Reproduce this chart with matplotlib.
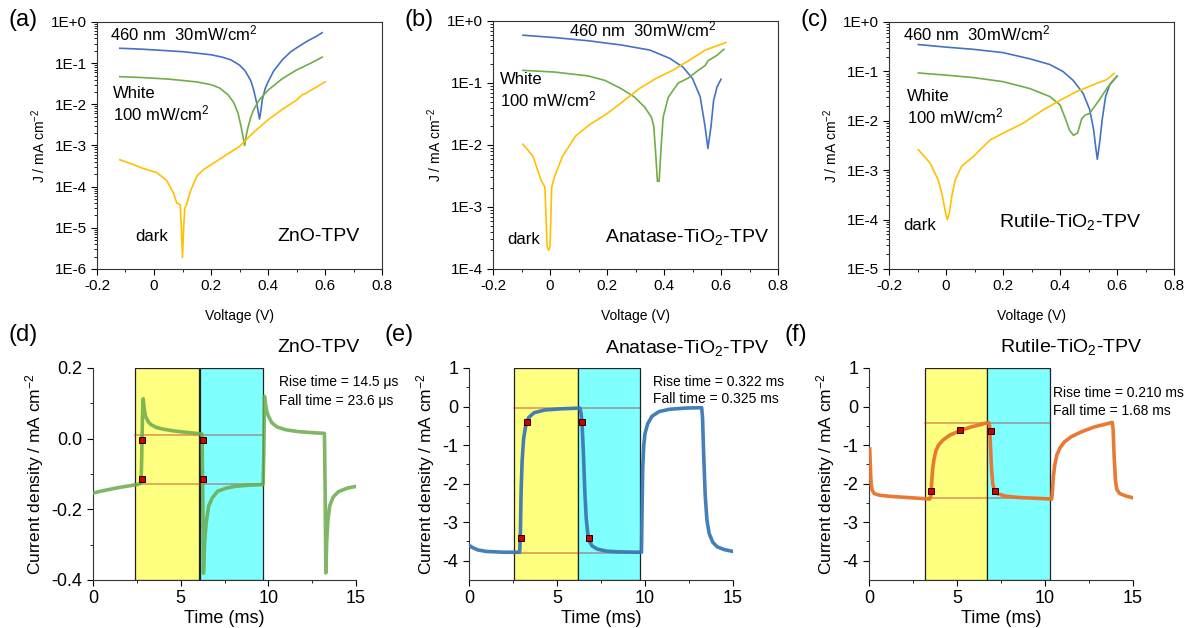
import math
import matplotlib
matplotlib.use("Agg")
import matplotlib.pyplot as plt
from matplotlib.ticker import FixedLocator, FuncFormatter, LogLocator, MultipleLocator, NullFormatter
from matplotlib.patches import Rectangle

plt.rcParams["font.family"] = ["Liberation Sans", "DejaVu Sans"]
plt.rcParams["mathtext.fontset"] = "custom"
plt.rcParams["mathtext.rm"] = "Liberation Sans"
plt.rcParams["mathtext.it"] = "Liberation Sans:italic"
plt.rcParams["axes.edgecolor"] = "#333333"

# ---------------- J-V data (|J| in mA cm-2) ----------------
# (a) ZnO
a_blue_v = [-0.12, -0.05, 0.0, 0.05, 0.1, 0.15, 0.2, 0.24, 0.27, 0.3, 0.32, 0.34, 0.35, 0.36, 0.365, 0.37, 0.375, 0.38, 0.39, 0.40, 0.42, 0.45, 0.48, 0.51, 0.54, 0.57, 0.59]
a_blue_j = [0.23, 0.22, 0.21, 0.2, 0.19, 0.175, 0.16, 0.14, 0.12, 0.09, 0.065, 0.037, 0.022, 0.011, 0.007, 0.0044, 0.007, 0.013, 0.024, 0.035, 0.065, 0.12, 0.19, 0.26, 0.35, 0.45, 0.55]
a_green_v = [-0.12, -0.05, 0.0, 0.05, 0.1, 0.15, 0.2, 0.23, 0.26, 0.28, 0.295, 0.305, 0.312, 0.318, 0.324, 0.33, 0.34, 0.35, 0.37, 0.4, 0.45, 0.5, 0.55, 0.59]
a_green_j = [0.047, 0.045, 0.043, 0.041, 0.038, 0.035, 0.03, 0.025, 0.017, 0.011, 0.006, 0.003, 0.0017, 0.001, 0.0018, 0.0028, 0.005, 0.0075, 0.013, 0.022, 0.042, 0.068, 0.1, 0.14]
a_dark_v = [-0.12, -0.08, -0.04, 0.0, 0.01, 0.045, 0.068, 0.08, 0.092, 0.096, 0.1, 0.104, 0.108, 0.113, 0.127, 0.15, 0.174, 0.2, 0.25, 0.3, 0.35, 0.4, 0.45, 0.5, 0.52, 0.53, 0.56, 0.6]
a_dark_j = [4.5e-4, 3.6e-4, 2.8e-4, 2.3e-4, 2.2e-4, 1.4e-4, 7e-5, 4e-5, 3.6e-5, 1e-5, 1.9e-6, 1e-5, 3e-5, 3.5e-5, 7.5e-5, 1.8e-4, 2.6e-4, 3.4e-4, 5.7e-4, 9.5e-4, 2.1e-3, 4.2e-3, 7.5e-3, 0.0127, 0.017, 0.018, 0.024, 0.035]

# (b) Anatase TiO2
b_blue_v = [-0.095, 0.017, 0.134, 0.25, 0.35, 0.42, 0.467, 0.5, 0.527, 0.544, 0.554, 0.565, 0.574, 0.586, 0.6]
b_blue_j = [0.59, 0.54, 0.48, 0.41, 0.34, 0.25, 0.18, 0.118, 0.06, 0.02, 0.0088, 0.02, 0.052, 0.086, 0.115]
b_green_v = [-0.095, 0.017, 0.134, 0.193, 0.25, 0.297, 0.332, 0.356, 0.364, 0.37, 0.377, 0.383, 0.389, 0.397, 0.415, 0.45, 0.485, 0.52, 0.544, 0.555, 0.586, 0.61]
b_green_j = [0.16, 0.15, 0.13, 0.11, 0.081, 0.059, 0.041, 0.028, 0.02, 0.0083, 0.0026, 0.0026, 0.008, 0.028, 0.059, 0.1, 0.12, 0.16, 0.19, 0.23, 0.28, 0.35]
b_dark_v = [-0.095, -0.06, -0.03, -0.018, -0.01, -0.005, 0.0, 0.006, 0.015, 0.044, 0.09, 0.137, 0.2, 0.255, 0.313, 0.371, 0.43, 0.487, 0.545, 0.617]
b_dark_j = [0.0103, 0.0066, 0.0026, 0.0021, 2.3e-4, 2e-4, 2.3e-4, 0.0021, 0.003, 0.0066, 0.014, 0.021, 0.032, 0.05, 0.081, 0.118, 0.16, 0.23, 0.34, 0.45]

# (c) Rutile TiO2
c_blue_v = [-0.097, 0.0, 0.096, 0.2, 0.294, 0.364, 0.41, 0.446, 0.481, 0.504, 0.518, 0.525, 0.531, 0.539, 0.548, 0.56, 0.574, 0.6]
c_blue_j = [0.35, 0.31, 0.28, 0.24, 0.18, 0.138, 0.1, 0.066, 0.036, 0.017, 0.0066, 0.003, 0.00166, 0.0036, 0.0105, 0.031, 0.053, 0.08]
c_green_v = [-0.097, 0.0, 0.096, 0.2, 0.294, 0.364, 0.4, 0.421, 0.433, 0.447, 0.461, 0.468, 0.476, 0.488, 0.503, 0.52, 0.541, 0.564, 0.582, 0.6]
c_green_j = [0.093, 0.084, 0.075, 0.062, 0.045, 0.031, 0.021, 0.0103, 0.0065, 0.0051, 0.0056, 0.0075, 0.011, 0.013, 0.014, 0.019, 0.028, 0.045, 0.062, 0.08]
c_dark_v = [-0.097, -0.056, -0.027, -0.012, -0.002, 0.005, 0.012, 0.02, 0.032, 0.055, 0.096, 0.155, 0.2, 0.27, 0.34, 0.4, 0.458, 0.528, 0.564, 0.59]
c_dark_j = [2.6e-3, 1.4e-3, 6.3e-4, 2.9e-4, 1.4e-4, 1e-4, 1.4e-4, 2.9e-4, 6.3e-4, 1.2e-3, 1.9e-3, 4.1e-3, 5.6e-3, 8.9e-3, 0.0165, 0.026, 0.039, 0.057, 0.068, 0.091]

# ---------------- transient photocurrent data ----------------
d_t = [0, 0.5, 1.0, 1.5, 2.0, 2.5, 2.74, 2.78, 2.82, 2.86, 2.92, 3.0, 3.15, 3.3, 3.6, 4.0, 4.6, 5.3, 6.1, 6.22, 6.26, 6.3, 6.36, 6.45, 6.6, 6.8, 7.1, 7.6, 8.1, 8.8, 9.7, 9.74, 9.78, 9.83, 9.9, 10.0, 10.2, 10.5, 11.0, 11.7, 12.5, 13.2, 13.24, 13.28, 13.33, 13.4, 13.5, 13.7, 14.0, 14.5, 15.0]
d_j = [-0.154, -0.148, -0.143, -0.138, -0.134, -0.13, -0.126, -0.05, 0.06, 0.113, 0.085, 0.063, 0.048, 0.04, 0.032, 0.027, 0.022, 0.018, 0.014, 0.013, -0.15, -0.381, -0.3, -0.24, -0.19, -0.168, -0.149, -0.14, -0.135, -0.132, -0.13, -0.05, 0.12, 0.1, 0.08, 0.064, 0.045, 0.033, 0.025, 0.02, 0.017, 0.015, -0.15, -0.38, -0.29, -0.23, -0.19, -0.165, -0.15, -0.14, -0.135]

e_t = [0, 0.2, 0.5, 1.0, 2.0, 2.88, 2.92, 2.96, 3.02, 3.1, 3.2, 3.27, 3.4, 3.7, 4.3, 5.2, 6.3, 6.36, 6.42, 6.5, 6.58, 6.66, 6.75, 6.85, 7.0, 7.3, 7.8, 8.5, 9.8, 9.83, 9.87, 9.93, 10.0, 10.15, 10.4, 10.8, 11.4, 12.3, 13.22, 13.27, 13.33, 13.42, 13.52, 13.65, 13.85, 14.1, 14.5, 15.0]
e_j = [-3.6, -3.66, -3.72, -3.76, -3.78, -3.78, -3.3, -2.2, -1.4, -0.85, -0.55, -0.41, -0.28, -0.16, -0.09, -0.06, -0.04, -0.15, -0.41, -1.2, -2.2, -2.9, -3.3, -3.5, -3.62, -3.7, -3.75, -3.77, -3.78, -2.8, -1.6, -1.0, -0.7, -0.45, -0.25, -0.13, -0.07, -0.04, -0.03, -0.3, -1.2, -2.3, -2.95, -3.3, -3.52, -3.64, -3.71, -3.76]

f_t = [0.04, 0.08, 0.12, 0.18, 0.3, 0.6, 1.2, 2.2, 3.45, 3.52, 3.57, 3.62, 3.7, 3.8, 3.95, 4.2, 4.6, 5.2, 5.8, 6.4, 6.79, 6.85, 6.9, 6.96, 7.03, 7.12, 7.3, 7.7, 8.5, 9.5, 10.38, 10.42, 10.48, 10.56, 10.68, 10.85, 11.1, 11.5, 12.1, 12.8, 13.5, 13.82, 13.87, 13.93, 14.0, 14.08, 14.25, 14.6, 14.93]
f_j = [-1.1, -1.6, -2.0, -2.17, -2.26, -2.3, -2.33, -2.36, -2.4, -2.3, -1.9, -1.6, -1.35, -1.15, -1.0, -0.87, -0.74, -0.62, -0.53, -0.46, -0.41, -0.5, -1.0, -1.6, -2.0, -2.17, -2.26, -2.32, -2.36, -2.38, -2.4, -2.2, -1.8, -1.5, -1.25, -1.07, -0.92, -0.78, -0.65, -0.53, -0.45, -0.41, -0.6, -1.3, -1.9, -2.15, -2.26, -2.32, -2.36]

# light on / off windows (start, end) and 10%/90% guide levels
d_on, d_off = (2.38, 6.05), (6.08, 9.72)
e_on, e_off = (2.56, 6.19), (6.19, 9.73)
f_on, f_off = (3.2, 6.72), (6.72, 10.3)
d_levels = [0.011, -0.128]
e_levels = [-0.04, -3.8]
f_levels = [-0.42, -2.38]
d_marks_t = [2.78, 2.78, 6.3, 6.3]
d_marks_j = [-0.003, -0.114, -0.003, -0.114]
e_marks_t = [3.27, 2.93, 6.42, 6.8]
e_marks_j = [-0.41, -3.4, -0.41, -3.4]
f_marks_t = [3.52, 5.19, 6.93, 7.16]
f_marks_j = [-2.19, -0.62, -0.63, -2.19]

BLUE = "#4472c4"
GREEN = "#70ad47"
GOLD = "#ffc000"

W, H = 1187, 628
fig = plt.figure(figsize=(W / 100, H / 100), dpi=100)


def px_axes(left, top, right, bottom):
    return fig.add_axes([left / W, 1 - bottom / H, (right - left) / W, (bottom - top) / H])


def sci_fmt(v, pos):
    e = int(round(math.log10(v)))
    return "1E+0" if e == 0 else "1E%d" % e


def jv_panel(box, ymin, data, label, name, lab_pos):
    ax = px_axes(*box)
    for v, j, c in data:
        ax.plot(v, j, color=c, lw=1.2)
    ax.set_yscale("log")
    ax.set_ylim(ymin, 1)
    ax.set_xlim(-0.2, 0.8)
    ax.xaxis.set_major_locator(MultipleLocator(0.2))
    ax.xaxis.set_minor_locator(MultipleLocator(0.1))
    ax.xaxis.set_major_formatter(FuncFormatter(lambda v, p: "0" if abs(v) < 1e-9 else "%g" % v))
    ax.yaxis.set_major_locator(LogLocator(base=10, numticks=100))
    ax.yaxis.set_minor_locator(LogLocator(base=10, subs=range(2, 10), numticks=100))
    ax.yaxis.set_minor_formatter(NullFormatter())
    ax.yaxis.set_major_formatter(FuncFormatter(sci_fmt))
    ax.tick_params(which="both", direction="out", labelsize=11, top=False, right=False)
    ax.tick_params(which="major", length=4)
    ax.tick_params(which="minor", length=2)
    ax.set_xlabel("Voltage (V)", fontsize=10, labelpad=11)
    ax.set_ylabel("J / mA cm$^{-2}$", fontsize=10, labelpad=2)
    (x1, y1), (x2, y2), (x3, y3), (x4, y4) = lab_pos
    ax.text(x1, y1, "460 nm  30mW/cm$^2$", transform=ax.transAxes, fontsize=12, va="center")
    ax.text(x2, y2, "White\n100 mW/cm$^2$", transform=ax.transAxes, fontsize=12, va="center", linespacing=1.15)
    ax.text(x3, y3, "dark", transform=ax.transAxes, fontsize=12, va="center")
    ax.text(x4, y4, name, transform=ax.transAxes, fontsize=14, va="center")
    fig.text((box[0] - 89) / W, 1 - 20 / H, label, fontsize=17, va="center")
    return ax


jv_panel((97, 22, 382, 269), 1e-6,
         [(a_blue_v, a_blue_j, BLUE), (a_green_v, a_green_j, GREEN), (a_dark_v, a_dark_j, GOLD)],
         "(a)", "ZnO-TPV", [(0.046, 0.955), (0.056, 0.664), (0.133, 0.13), (0.632, 0.13)])
jv_panel((493, 21, 778, 269), 1e-4,
         [(b_blue_v, b_blue_j, BLUE), (b_green_v, b_green_j, GREEN), (b_dark_v, b_dark_j, GOLD)],
         "(b)", "Anatase-TiO$_2$-TPV", [(0.267, 0.964), (0.025, 0.718), (0.049, 0.117), (0.393, 0.129)])
jv_panel((889, 22, 1174, 269), 1e-5,
         [(c_blue_v, c_blue_j, BLUE), (c_green_v, c_green_j, GREEN), (c_dark_v, c_dark_j, GOLD)],
         "(c)", "Rutile-TiO$_2$-TPV", [(0.049, 0.955), (0.063, 0.652), (0.049, 0.178), (0.386, 0.19)])


def tpc_panel(box, t, j, color, alpha, on, off, levels, mt, mj, ylim, yticks, yminor, yfmt,
              label, name, name_pos, rise, fall, info_pos):
    ax = px_axes(*box)
    y0, y1 = ylim
    ax.add_patch(Rectangle((on[0], y0), on[1] - on[0], y1 - y0, facecolor="#ffff80", edgecolor="#222222", lw=0.9, zorder=1))
    ax.add_patch(Rectangle((off[0], y0), off[1] - off[0], y1 - y0, facecolor="#80ffff", edgecolor="#222222", lw=0.9, zorder=1))
    for lv in levels:
        ax.plot([on[0], off[1]], [lv, lv], color="#b02020", alpha=0.45, lw=1.2, zorder=2)
    ax.plot(t, j, color=color, alpha=alpha, lw=2.6, zorder=3, solid_joinstyle="round")
    ax.plot(mt, mj, ls="none", marker="s", ms=5, mfc="#d00000", mec="#200000", mew=0.7, zorder=4)
    ax.set_xlim(0, 15)
    ax.set_ylim(y0, y1)
    ax.spines["top"].set_visible(False)
    ax.spines["right"].set_visible(False)
    ax.xaxis.set_major_locator(FixedLocator([0, 5, 10, 15]))
    ax.xaxis.set_minor_locator(FixedLocator([2.5, 7.5, 12.5]))
    ax.yaxis.set_major_locator(FixedLocator(yticks))
    ax.yaxis.set_minor_locator(FixedLocator(yminor))
    ax.yaxis.set_major_formatter(FuncFormatter(yfmt))
    ax.tick_params(which="both", direction="out", labelsize=13)
    ax.tick_params(which="major", length=4)
    ax.tick_params(which="minor", length=2)
    ax.set_xlabel("Time (ms)", fontsize=13, labelpad=2)
    ax.set_ylabel("Current density / mA cm$^{-2}$", fontsize=12.5, labelpad=4)
    ax.text(name_pos[0], name_pos[1], name, transform=ax.transAxes, fontsize=14, va="center")
    ax.text(info_pos[0], info_pos[1], rise, transform=ax.transAxes, fontsize=10, va="center")
    ax.text(info_pos[0], info_pos[1] - info_pos[2], fall, transform=ax.transAxes, fontsize=10, va="center")
    fig.text((box[0] - 85) / W, 1 - 335 / H, label, fontsize=17, va="center")
    return ax


tpc_panel((93, 368, 356, 580), d_t, d_j, "#6aaa4c", 0.85, d_on, d_off, d_levels, d_marks_t, d_marks_j,
          (-0.4, 0.2), [-0.4, -0.2, 0.0, 0.2], [-0.3, -0.1, 0.1], lambda v, p: "%.1f" % v,
          "(d)", "ZnO-TPV", (0.70, 1.099), "Rise time = 14.5 \u03bcs", "Fall time = 23.6 \u03bcs", (0.707, 0.934, 0.09))
tpc_panel((469, 368, 733, 580), e_t, e_j, "#3b78b5", 0.95, e_on, e_off, e_levels, e_marks_t, e_marks_j,
          (-4.5, 1), [-4, -3, -2, -1, 0, 1], [-3.5, -2.5, -1.5, -0.5, 0.5], lambda v, p: "%d" % v,
          "(e)", "Anatase-TiO$_2$-TPV", (0.515, 1.094), "Rise time = 0.322 ms", "Fall time = 0.325 ms", (0.697, 0.934, 0.08))
tpc_panel((869, 368, 1133, 580), f_t, f_j, "#e8722a", 0.95, f_on, f_off, f_levels, f_marks_t, f_marks_j,
          (-4.5, 1), [-4, -3, -2, -1, 0, 1], [-3.5, -2.5, -1.5, -0.5, 0.5], lambda v, p: "%d" % v,
          "(f)", "Rutile-TiO$_2$-TPV", (0.496, 1.099), "Rise time = 0.210 ms", "Fall time = 1.68 ms", (0.697, 0.882, 0.085))

fig.savefig("out.png", dpi=100)
